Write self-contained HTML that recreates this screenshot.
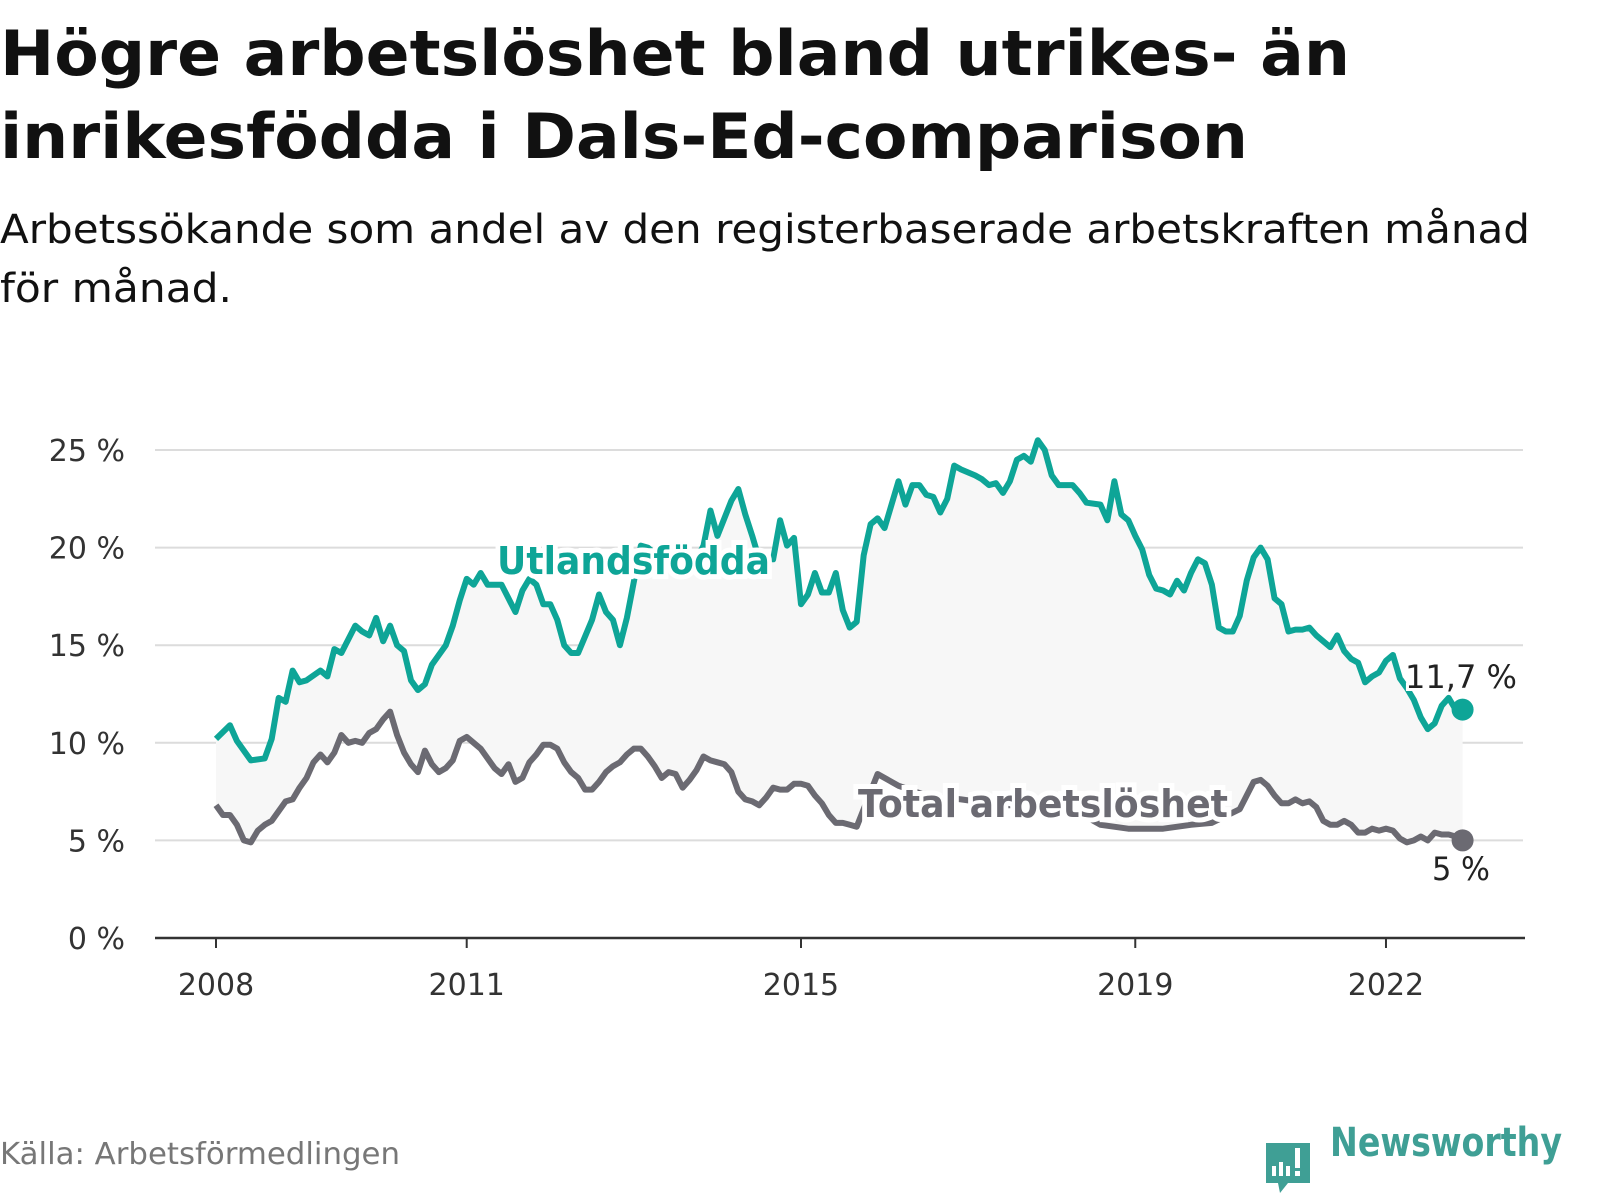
<!DOCTYPE html>
<html><head><meta charset="utf-8">
<style>
body{margin:0;width:1600px;height:1200px;background:#fff;overflow:hidden;font-family:"DejaVu Sans","Liberation Sans",sans-serif;}
svg{position:absolute;left:0;top:0;}
</style></head>
<body>
<svg id="chart" width="1600" height="1200">
<text x="0" y="75" font-size="62" font-weight="bold" fill="#111" textLength="1350" lengthAdjust="spacingAndGlyphs">Högre arbetslöshet bland utrikes- än</text>
<text x="0" y="158" font-size="62" font-weight="bold" fill="#111" textLength="1248" lengthAdjust="spacingAndGlyphs">inrikesfödda i Dals-Ed-comparison</text>
<text x="0" y="243" font-size="40" fill="#111" textLength="1530" lengthAdjust="spacingAndGlyphs">Arbetssökande som andel av den registerbaserade arbetskraften månad</text>
<text x="0" y="302" font-size="40" fill="#111" textLength="232" lengthAdjust="spacingAndGlyphs">för månad.</text>
<g id="grid"></g>
<g id="marks"></g>
<text x="0" y="1164" font-size="30" fill="#777" textLength="400" lengthAdjust="spacingAndGlyphs">Källa: Arbetsförmedlingen</text>
<g>
<path d="M1266 1143 h44 v40 h-22 l-8 10 l-2 -10 h-12 z" fill="#3f9f95"/>
<rect x="1272" y="1166" width="4" height="10" fill="#fff"/><rect x="1279" y="1162" width="4" height="14" fill="#fff"/><rect x="1286" y="1166" width="4" height="10" fill="#fff"/><rect x="1295" y="1148" width="5" height="20" fill="#fff"/><rect x="1295" y="1171" width="5" height="5" fill="#fff"/>
<text x="1330" y="1156" font-size="40" font-weight="bold" fill="#3f9f95" textLength="232" lengthAdjust="spacingAndGlyphs">Newsworthy</text>
</g>
</svg>
<script>
const yTicks=[0,5,10,15,20,25];
const yTickLabels=["0 %","5 %","10 %","15 %","20 %","25 %"];
const xTickYears=[2008,2011,2015,2019,2022];
// months since Jan 2008
const utlMonths=[0,2,3,5,7,8,9,10,11,12,13,15,16,17,18,20,21,22,23,24,25,26,27,28,29,30,31,33,34,35,36,37,38,39,41,43,44,45,46,47,48,49,50,51,52,54,55,56,57,58,59,61,62,64,67,69,70,71,72,74,75,76,77,78,80,81,82,83,84,85,86,87,88,89,90,91,92,93,94,95,96,97,98,99,100,101,102,103,104,105,106,107,109,110,111,112,113,114,115,116,117,118,119,120,121,123,124,125,127,128,129,130,131,132,133,134,135,136,137,138,139,140,141,142,143,144,145,146,147,148,149,150,151,152,153,154,155,156,157,158,160,161,162,163,164,165,166,167,168,169,170,171,172,173,174,175,176,177,178,179];
const utlValues=[10.2,10.9,10.1,9.1,9.2,10.2,12.3,12.1,13.7,13.1,13.2,13.7,13.4,14.8,14.6,16.0,15.7,15.5,16.4,15.2,16.0,15.0,14.7,13.2,12.7,13.0,14.0,15.0,16.0,17.3,18.4,18.1,18.7,18.1,18.1,16.7,17.8,18.4,18.1,17.1,17.1,16.3,15.0,14.6,14.6,16.3,17.6,16.7,16.3,15.0,16.4,20.1,20.0,19.4,18.6,19.4,20.1,21.9,20.6,22.4,23.0,21.7,20.6,19.4,19.4,21.4,20.1,20.5,17.1,17.6,18.7,17.7,17.7,18.7,16.8,15.9,16.2,19.6,21.2,21.5,21.0,22.2,23.4,22.2,23.2,23.2,22.7,22.6,21.8,22.5,24.2,24.0,23.7,23.5,23.2,23.3,22.8,23.4,24.5,24.7,24.4,25.5,25.0,23.7,23.2,23.2,22.8,22.3,22.2,21.4,23.4,21.7,21.4,20.6,19.9,18.6,17.9,17.8,17.6,18.3,17.8,18.7,19.4,19.2,18.1,15.9,15.7,15.7,16.5,18.3,19.5,20.0,19.4,17.4,17.1,15.7,15.8,15.8,15.9,15.5,14.9,15.5,14.7,14.3,14.1,13.1,13.4,13.6,14.2,14.5,13.3,12.8,12.2,11.3,10.7,11.0,11.9,12.3,11.7,11.7];
const totMonths=[0,1,2,3,4,5,6,7,8,9,10,11,12,13,14,15,16,17,18,19,20,21,22,23,24,25,26,27,28,29,30,31,32,33,34,35,36,37,38,39,40,41,42,43,44,45,46,47,48,49,50,51,52,53,54,55,56,57,58,59,60,61,62,63,64,65,66,67,68,69,70,71,72,73,74,75,76,77,78,79,80,81,82,83,84,85,86,87,88,89,90,91,92,95,98,102,107,113,118,123,127,131,136,140,143,147,148,149,150,151,152,153,154,155,156,157,158,159,160,161,162,163,164,165,166,167,168,169,170,171,172,173,174,175,176,177,178,179];
const totValues=[6.8,6.3,6.3,5.8,5.0,4.9,5.5,5.8,6.0,6.5,7.0,7.1,7.7,8.2,9.0,9.4,9.0,9.5,10.4,10.0,10.1,10.0,10.5,10.7,11.2,11.6,10.4,9.5,8.9,8.5,9.6,8.9,8.5,8.7,9.1,10.1,10.3,10.0,9.7,9.2,8.7,8.4,8.9,8.0,8.2,9.0,9.4,9.9,9.9,9.7,9.0,8.5,8.2,7.6,7.6,8.0,8.5,8.8,9.0,9.4,9.7,9.7,9.3,8.8,8.2,8.5,8.4,7.7,8.1,8.6,9.3,9.1,9.0,8.9,8.5,7.5,7.1,7.0,6.8,7.2,7.7,7.6,7.6,7.9,7.9,7.8,7.3,6.9,6.3,5.9,5.9,5.8,5.7,8.4,7.8,7.3,7.1,6.8,6.8,6.6,5.8,5.6,5.6,5.8,5.9,6.6,7.3,8.0,8.1,7.8,7.3,6.9,6.9,7.1,6.9,7.0,6.7,6.0,5.8,5.8,6.0,5.8,5.4,5.4,5.6,5.5,5.6,5.5,5.1,4.9,5.0,5.2,5.0,5.4,5.3,5.3,5.2,5.0];
const X0=216,PXM=83.57/12,Y0=938,PXV=19.52;
const x=m=>X0+m*PXM;
const xYear=yr=>X0+(yr-2008)*83.57;
const y=v=>Y0-v*PXV;
const NS="http://www.w3.org/2000/svg";
function mk(tag,attrs,parent){const e=document.createElementNS(NS,tag);for(const k in attrs)e.setAttribute(k,attrs[k]);parent.appendChild(e);return e;}
const grid=document.getElementById('grid'),marks=document.getElementById('marks');
yTicks.forEach((t,i)=>{
  if(t>0){const g=mk('line',{x1:155,x2:1523,y1:y(t),y2:y(t),stroke:'#dcdcdc','stroke-width':2},grid);
  
  }
  const l=mk('text',{x:125,y:y(t)+11,'text-anchor':'end','font-size':30,fill:'#333'},grid);
  l.textContent=yTickLabels[i];
  
  
});
const ax=mk('line',{x1:155,x2:1525,y1:Y0,y2:Y0,stroke:'#333','stroke-width':2.5},grid);


xTickYears.forEach(yr=>{
  mk('line',{x1:xYear(yr),x2:xYear(yr),y1:Y0,y2:Y0+10,stroke:'#333','stroke-width':2},grid);
  const l=mk('text',{x:xYear(yr),y:995,'text-anchor':'middle','font-size':30,fill:'#333'},grid);
  l.textContent=yr;
  
  
});
const up=utlMonths.map((m,i)=>x(m)+','+y(utlValues[i]));
const tp=totMonths.map((m,i)=>x(m)+','+y(totValues[i]));
const band=mk('polygon',{points:up.concat(tp.slice().reverse()).join(' '),fill:'#f7f7f7'},marks);


const lt=mk('polyline',{points:tp.join(' '),fill:'none',stroke:'#6b6a72','stroke-width':6,'stroke-linejoin':'round'},marks);


const lu=mk('polyline',{points:up.join(' '),fill:'none',stroke:'#0ea597','stroke-width':6,'stroke-linejoin':'round'},marks);


const du=mk('circle',{cx:x(utlMonths[utlMonths.length-1]),cy:y(utlValues[utlValues.length-1]),r:11,fill:'#0ea597'},marks);


const dt=mk('circle',{cx:x(totMonths[totMonths.length-1]),cy:y(totValues[totValues.length-1]),r:11,fill:'#6b6a72'},marks);


function lab(t,xx,yy,col,name,bold,w){
  const e=mk('text',{x:xx,y:yy,'font-size':bold?38:32,'font-weight':bold?'bold':'normal',fill:col,stroke:'#fff','stroke-width':bold?10:6,'paint-order':'stroke',textLength:w,lengthAdjust:'spacingAndGlyphs'},marks);
  e.textContent=t;
  
  
}
lab('Utlandsfödda',497,574,'#0ea597','utlandsfodda-label',true,273);
lab('Total arbetslöshet',858,817,'#6b6a72','total-label',true,370);
lab('11,7 %',1405,688,'#222','utlandsfodda-end-value',false,112);
lab('5 %',1432,880,'#222','total-end-value',false,58);
</script>
</body></html>
